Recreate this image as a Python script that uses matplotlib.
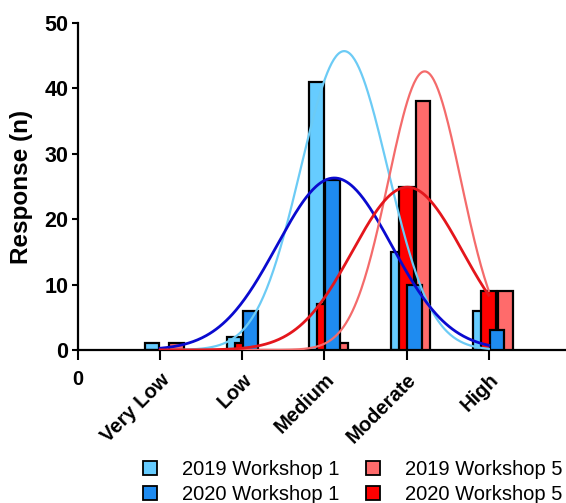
import numpy as np
import matplotlib
matplotlib.use("Agg")
import matplotlib.pyplot as plt
from matplotlib.lines import Line2D

plt.rcParams['font.family'] = ['Liberation Sans', 'DejaVu Sans']

categories = ["Very Low", "Low", "Medium", "Moderate", "High"]
series_names = ["2019 Workshop 1", "2020 Workshop 1", "2019 Workshop 5", "2020 Workshop 5"]
w1_2019 = [1, 2, 41, 15, 6]
w1_2020 = [0, 6, 26, 10, 3]
w5_2019 = [1, 0, 1, 38, 9]
w5_2020 = [0, 1, 7, 25, 9]

# Gaussian fit parameters: amplitude, mean (category index), sd
fit_amp = [45.7, 26.3, 42.6, 24.9]
fit_mean = [3.24, 3.12, 4.22, 4.01]
fit_sd = [0.53, 0.70, 0.443, 0.67]

bar_colors = ["#66CCFF", "#1E8BF0", "#FF6B6B", "#FF0000"]
line_colors = ["#6CCBF5", "#0A0ACF", "#F46B6B", "#E4161C"]
line_widths = [1.6, 2.0, 1.6, 2.0]

fig = plt.figure(figsize=(5.66, 5.03), dpi=100)
ax = fig.add_axes([78/566, (503-350)/503, (566-78)/566, (350-23)/503])

x = np.arange(1, len(categories) + 1)
width = 0.18
offsets = [-0.1, 0.1, 0.2, 0.0]
zorders = [2, 5, 4, 3]
data = [w1_2019, w1_2020, w5_2019, w5_2020]
for vals, off, col, z in zip(data, offsets, bar_colors, zorders):
    v = np.array(vals, dtype=float)
    mask = v > 0
    ax.bar(x[mask] + off, v[mask], width=width, color=col, edgecolor="black",
           linewidth=1.6, zorder=z)

xs = np.linspace(1, 5, 300)
for a, m, s, c, lw in zip(fit_amp, fit_mean, fit_sd, line_colors, line_widths):
    ax.plot(xs, a * np.exp(-(xs - m) ** 2 / (2 * s ** 2)), color=c, lw=lw, zorder=6)

ax.set_xlim(0, 5.94)
ax.set_ylim(0, 50)
ax.set_yticks([0, 10, 20, 30, 40, 50])
ax.set_xticks([0] + list(x))
ax.set_xticklabels(["0"] + categories)
for i, lab in enumerate(ax.get_xticklabels()):
    lab.set_fontweight("bold")
    lab.set_fontsize(14.5)
    if i > 0:
        lab.set_rotation(45)
        lab.set_ha("right")
        lab.set_va("top")
        lab.set_rotation_mode("anchor")
for lab in ax.get_yticklabels():
    lab.set_fontweight("bold")
    lab.set_fontsize(15.5)

ax.tick_params(axis="x", length=7, width=1.5, pad=7.5)
ax.tick_params(axis="y", length=4, width=1.5, pad=3)
ax.spines["top"].set_visible(False)
ax.spines["right"].set_visible(False)
ax.spines["left"].set_linewidth(1.6)
ax.spines["bottom"].set_linewidth(1.6)
ax.set_ylabel("Response (n)", fontsize=17.5, fontweight="bold")
ax.yaxis.set_label_coords((33 - 78) / 488, 0.5)

handles = [Line2D([], [], marker="s", linestyle="none", markersize=10,
                  markerfacecolor=c, markeredgecolor="black", markeredgewidth=1.3)
           for c in bar_colors]
fig.legend(handles, series_names, loc="upper left", bbox_to_anchor=(140/566, 0.086),
           ncol=2, frameon=False, fontsize=14.5, handletextpad=1.1,
           columnspacing=1.15, labelspacing=0.3, handlelength=1.0,
           borderpad=0, borderaxespad=0)

fig.savefig("out.png", dpi=100)
